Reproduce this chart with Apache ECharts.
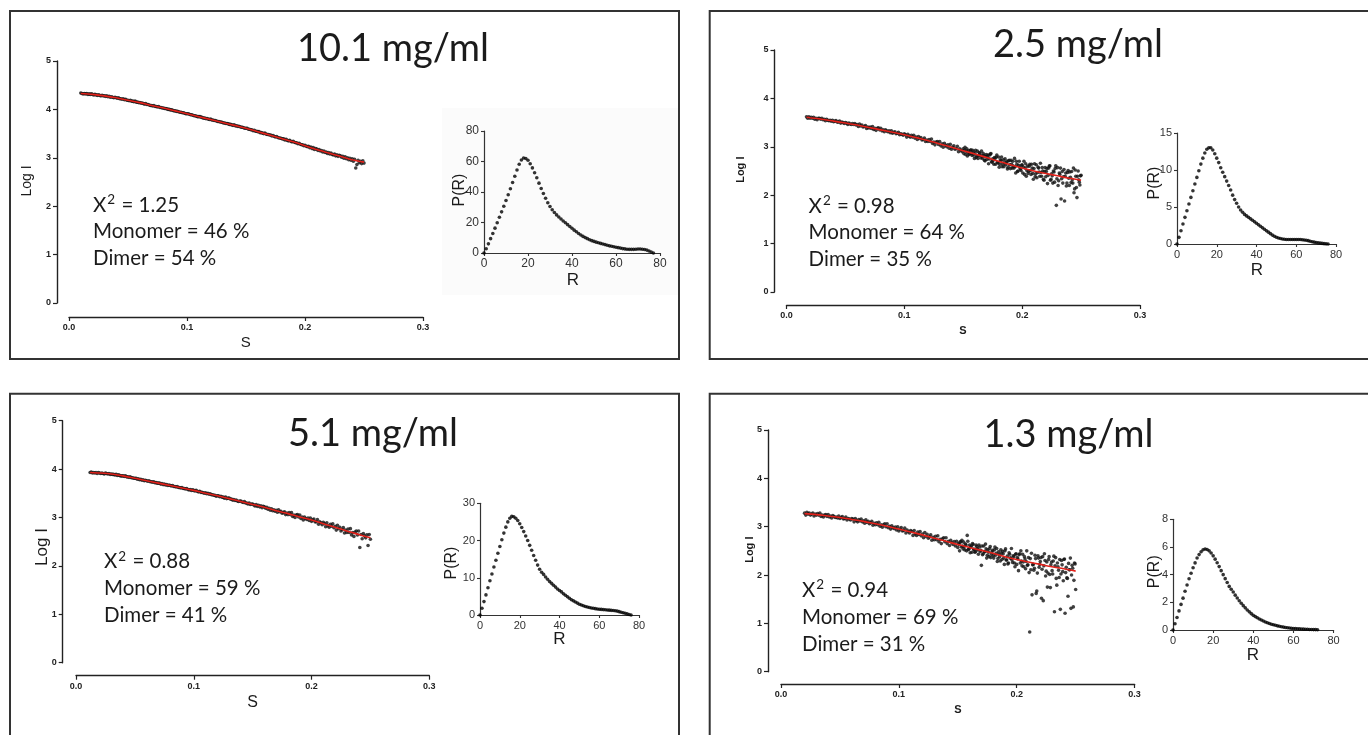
<!DOCTYPE html>
<html>
<head>
<meta charset="utf-8">
<script src="https://cdn.jsdelivr.net/npm/echarts@6/dist/echarts.min.js"></script>
<style>
  html, body { margin: 0; padding: 0; background: #fff; }
  #c { width: 1368px; height: 735px; }
</style>
</head>
<body>
<div id="c"></div>
<script>
// Scattering vector grid shared by all four curves (S, 1/Å)
const sGrid = [
  0.010,0.011,0.012,0.013,0.014,0.015,0.016,0.017,0.018,0.019,
  0.020,0.021,0.022,0.023,0.024,0.025,0.026,0.027,0.028,0.029,
  0.030,0.031,0.032,0.033,0.034,0.035,0.036,0.037,0.038,0.039,
  0.040,0.041,0.042,0.043,0.044,0.045,0.046,0.047,0.048,0.049,
  0.050,0.051,0.052,0.053,0.054,0.055,0.056,0.057,0.058,0.059,
  0.060,0.061,0.062,0.063,0.064,0.065,0.066,0.067,0.068,0.069,
  0.070,0.071,0.072,0.073,0.074,0.075,0.076,0.077,0.078,0.079,
  0.080,0.081,0.082,0.083,0.084,0.085,0.086,0.087,0.088,0.089,
  0.090,0.091,0.092,0.093,0.094,0.095,0.096,0.097,0.098,0.099,
  0.100,0.101,0.102,0.103,0.104,0.105,0.106,0.107,0.108,0.109,
  0.110,0.111,0.112,0.113,0.114,0.115,0.116,0.117,0.118,0.119,
  0.120,0.121,0.122,0.123,0.124,0.125,0.126,0.127,0.128,0.129,
  0.130,0.131,0.132,0.133,0.134,0.135,0.136,0.137,0.138,0.139,
  0.140,0.141,0.142,0.143,0.144,0.145,0.146,0.147,0.148,0.149,
  0.150,0.151,0.152,0.153,0.154,0.155,0.156,0.157,0.158,0.159,
  0.160,0.161,0.162,0.163,0.164,0.165,0.166,0.167,0.168,0.169,
  0.170,0.171,0.172,0.173,0.174,0.175,0.176,0.177,0.178,0.179,
  0.180,0.181,0.182,0.183,0.184,0.185,0.186,0.187,0.188,0.189,
  0.190,0.191,0.192,0.193,0.194,0.195,0.196,0.197,0.198,0.199,
  0.200,0.201,0.202,0.203,0.204,0.205,0.206,0.207,0.208,0.209,
  0.210,0.211,0.212,0.213,0.214,0.215,0.216,0.217,0.218,0.219,
  0.220,0.221,0.222,0.223,0.224,0.225,0.226,0.227,0.228,0.229,
  0.230,0.231,0.232,0.233,0.234,0.235,0.236,0.237,0.238,0.239,
  0.240,0.241,0.242,0.243,0.244,0.245,0.246,0.247,0.248,0.249,0.250
];

// Interleaved wide-angle samples recorded for the two dilute samples
const sHalf = [
  0.1505,0.1515,0.1525,0.1535,0.1545,0.1555,0.1565,0.1575,0.1585,0.1595,
  0.1605,0.1615,0.1625,0.1635,0.1645,0.1655,0.1665,0.1675,0.1685,0.1695,
  0.1705,0.1715,0.1725,0.1735,0.1745,0.1755,0.1765,0.1775,0.1785,0.1795,
  0.1805,0.1815,0.1825,0.1835,0.1845,0.1855,0.1865,0.1875,0.1885,0.1895,
  0.1905,0.1915,0.1925,0.1935,0.1945,0.1955,0.1965,0.1975,0.1985,0.1995,
  0.2005,0.2015,0.2025,0.2035,0.2045,0.2055,0.2065,0.2075,0.2085,0.2095,
  0.2105,0.2115,0.2125,0.2135,0.2145,0.2155,0.2165,0.2175,0.2185,0.2195,
  0.2205,0.2215,0.2225,0.2235,0.2245,0.2255,0.2265,0.2275,0.2285,0.2295,
  0.2305,0.2315,0.2325,0.2335,0.2345,0.2355,0.2365,0.2375,0.2385,0.2395,
  0.2405,0.2415,0.2425,0.2435,0.2445,0.2455,0.2465,0.2475,0.2485,0.2495
];

// Measured Log I on sGrid (null = not measured)
const logI_101 = [
  4.34,4.33,4.32,4.33,4.32,4.33,4.31,4.32,4.31,4.32,
  4.31,4.30,4.31,4.30,4.29,4.30,4.29,4.28,4.29,4.28,
  4.28,4.27,4.28,4.26,4.27,4.25,4.26,4.25,4.24,4.25,
  4.24,4.23,4.24,4.22,4.22,4.21,4.22,4.20,4.21,4.19,
  4.19,4.18,4.19,4.17,4.17,4.16,4.17,4.15,4.15,4.14,
  4.14,4.13,4.13,4.12,4.11,4.12,4.10,4.10,4.09,4.08,
  4.08,4.07,4.08,4.06,4.06,4.05,4.06,4.04,4.04,4.03,
  4.03,4.02,4.02,4.01,4.00,4.00,3.99,3.99,3.98,3.97,
  3.97,3.96,3.96,3.95,3.94,3.94,3.93,3.93,3.92,3.91,
  3.91,3.91,3.90,3.89,3.89,3.88,3.87,3.87,3.86,3.85,
  3.85,3.85,3.84,3.83,3.82,3.82,3.81,3.81,3.80,3.79,
  3.80,3.78,3.78,3.77,3.77,3.76,3.75,3.75,3.74,3.74,
  3.73,3.72,3.72,3.71,3.71,3.70,3.69,3.69,3.68,3.67,
  3.68,3.66,3.66,3.65,3.65,3.64,3.63,3.63,3.62,3.61,
  3.61,3.61,3.59,3.59,3.58,3.58,3.56,3.57,3.55,3.55,
  3.54,3.54,3.52,3.52,3.51,3.50,3.51,3.49,3.48,3.48,
  3.47,3.47,3.45,3.46,3.44,3.43,3.44,3.42,3.41,3.41,
  3.40,3.39,3.39,3.37,3.38,3.36,3.35,3.36,3.34,3.33,
  3.34,3.32,3.31,3.31,3.29,3.30,3.28,3.27,3.27,3.25,
  3.26,3.24,3.23,3.24,3.21,3.22,3.19,3.21,3.17,3.19,
  3.18,3.15,3.17,3.14,3.15,3.12,3.14,3.11,3.12,3.09,
  3.11,3.08,3.10,3.07,3.06,3.08,3.04,3.06,3.03,3.05,
  3.04,3.01,3.03,2.99,3.02,2.98,3.00,2.96,2.99,2.95,
  2.98,2.93,2.97,2.79,2.86,2.95,2.90,2.93,2.88,2.94,2.89
];
const logI_25 = [
  null,null,null,null,null,null,null,3.62,3.59,3.62,
  3.59,3.61,3.59,3.61,3.57,3.59,3.56,3.59,3.59,3.57,
  3.59,3.56,3.57,3.54,3.57,3.55,3.54,3.55,3.53,3.55,
  3.52,3.53,3.54,3.51,3.51,3.53,3.49,3.51,3.50,3.48,
  3.50,3.49,3.46,3.49,3.47,3.46,3.48,3.46,3.48,3.45,
  3.46,3.42,3.47,3.43,3.45,3.41,3.42,3.44,3.38,3.41,
  3.39,3.41,3.38,3.42,3.36,3.38,3.34,3.38,3.39,3.35,
  3.38,3.33,3.35,3.31,3.35,3.33,3.31,3.33,3.29,3.33,
  3.28,3.30,3.31,3.27,3.28,3.30,3.25,3.27,3.26,3.24,
  3.27,3.25,3.20,3.26,3.22,3.20,3.24,3.20,3.24,3.18,
  3.20,3.15,3.21,3.17,3.19,3.14,3.15,3.18,3.11,3.14,
  3.11,3.15,3.11,3.16,3.07,3.10,3.04,3.10,3.11,3.05,
  3.11,3.02,3.06,2.99,3.07,3.03,3.00,3.04,2.97,3.05,
  2.95,2.99,3.02,2.95,2.96,3.01,2.90,2.96,2.93,2.90,
  2.96,2.93,2.84,2.96,2.88,2.84,2.92,2.86,2.93,2.83,
  2.87,2.78,2.91,2.82,2.86,2.77,2.81,2.86,2.72,2.80,
  2.74,2.83,2.75,2.85,2.69,2.75,2.64,2.76,2.79,2.68,
  2.79,2.64,2.71,2.59,2.73,2.67,2.63,2.70,2.58,2.72,
  2.55,2.64,2.70,2.56,2.59,2.70,2.49,2.62,2.57,2.51,
  2.63,2.58,2.43,2.65,2.51,2.45,2.60,2.51,2.64,2.45,
  2.55,2.38,2.63,2.47,2.56,2.39,2.47,2.57,2.33,2.49,
  2.38,2.55,2.41,2.60,2.31,2.44,2.25,2.48,2.55,1.79,
  2.57,2.30,2.43,1.92,2.49,2.38,1.88,2.46,2.25,2.51,
  2.20,2.37,2.49,2.25,2.05,2.52,2.16,2.39,2.32,2.21,2.41
];
const logI_25_hi = [
  2.86,2.99,2.91,2.81,2.92,2.86,2.94,2.82,2.89,2.76,
  2.93,2.81,2.76,2.88,2.82,2.91,2.76,2.82,2.71,2.84,
  2.80,2.65,2.83,2.86,2.68,2.72,2.78,2.64,2.83,2.67,
  2.58,2.73,2.79,2.65,2.59,2.75,2.67,2.54,2.71,2.63,
  2.72,2.56,2.60,2.76,2.46,2.64,2.50,2.70,2.54,2.62,
  2.46,2.70,2.56,2.39,2.60,2.49,2.64,2.43,2.56,2.33,
  2.65,2.44,2.36,2.58,2.48,2.66,2.39,2.50,2.31,2.57,
  2.49,2.24,2.56,2.61,2.33,2.40,2.50,2.27,2.61,2.34,
  2.20,2.46,2.56,2.34,2.25,2.53,2.39,2.19,2.47,2.35,
  2.48,2.26,2.32,2.56,2.13,2.39,1.95,2.50,2.27,2.40
];
const logI_51 = [
  null,null,3.93,3.94,3.92,3.93,3.92,3.93,3.91,3.93,
  3.92,3.91,3.92,3.91,3.90,3.92,3.91,3.90,3.91,3.89,
  3.90,3.89,3.89,3.88,3.89,3.87,3.88,3.87,3.86,3.86,
  3.86,3.85,3.86,3.84,3.84,3.83,3.84,3.82,3.82,3.81,
  3.81,3.81,3.79,3.80,3.78,3.79,3.77,3.78,3.76,3.77,
  3.76,3.75,3.76,3.74,3.74,3.73,3.74,3.72,3.72,3.71,
  3.71,3.71,3.69,3.70,3.68,3.69,3.67,3.68,3.66,3.67,
  3.66,3.65,3.66,3.64,3.64,3.63,3.64,3.62,3.62,3.61,
  3.62,3.60,3.60,3.59,3.60,3.58,3.57,3.58,3.56,3.57,
  3.56,3.55,3.56,3.54,3.53,3.54,3.52,3.52,3.51,3.50,
  3.51,3.49,3.50,3.48,3.49,3.47,3.47,3.46,3.46,3.44,
  3.45,3.45,3.43,3.44,3.42,3.42,3.40,3.42,3.39,3.40,
  3.40,3.38,3.38,3.36,3.37,3.35,3.36,3.34,3.33,3.34,
  3.34,3.32,3.31,3.33,3.30,3.30,3.28,3.30,3.27,3.28,
  3.28,3.26,3.24,3.27,3.23,3.25,3.22,3.24,3.20,3.23,
  3.22,3.19,3.21,3.17,3.19,3.15,3.18,3.14,3.16,3.13,
  3.15,3.11,3.16,3.12,3.13,3.09,3.10,3.12,3.06,3.09,
  3.06,3.10,3.06,3.10,3.02,3.05,3.00,3.05,3.06,3.01,
  3.05,2.98,3.01,2.95,3.01,2.98,2.96,2.99,2.94,2.99,
  2.92,2.95,2.97,2.91,2.91,2.96,2.86,2.91,2.89,2.85,
  2.90,2.87,2.81,2.89,2.83,2.80,2.86,2.82,2.87,2.79,
  2.82,2.74,2.84,2.77,2.80,2.72,2.75,2.79,2.68,2.74,
  2.69,2.76,2.69,2.77,2.64,2.69,2.61,2.70,2.72,2.64,
  2.72,2.38,2.65,2.56,2.67,2.62,2.58,2.64,2.42,2.65,2.55
];
const logI_13 = [
  null,null,null,null,null,null,null,null,null,null,
  3.28,3.24,3.30,3.26,3.28,3.24,3.26,3.28,3.22,3.26,
  3.24,3.27,3.24,3.28,3.21,3.24,3.20,3.24,3.25,3.21,
  3.25,3.20,3.22,3.18,3.23,3.21,3.19,3.20,3.18,3.22,
  3.17,3.19,3.21,3.16,3.17,3.20,3.14,3.17,3.16,3.14,
  3.17,3.16,3.10,3.17,3.13,3.10,3.15,3.12,3.16,3.10,
  3.12,3.07,3.14,3.09,3.11,3.06,3.08,3.11,3.03,3.07,
  3.04,3.08,3.04,3.09,3.01,3.04,2.99,3.04,3.06,3.00,
  3.06,2.98,3.01,2.95,3.02,2.98,2.96,2.99,2.93,3.00,
  2.91,2.95,2.98,2.91,2.92,2.97,2.87,2.93,2.90,2.87,
  2.92,2.90,2.82,2.92,2.85,2.82,2.89,2.84,2.90,2.81,
  2.85,2.77,2.88,2.80,2.84,2.76,2.79,2.83,2.72,2.78,
  2.73,2.80,2.73,2.81,2.69,2.74,2.65,2.75,2.77,2.69,
  2.77,2.65,2.70,2.61,2.72,2.67,2.63,2.69,2.60,2.70,
  2.57,2.63,2.68,2.58,2.60,2.68,2.52,2.62,2.82,2.53,
  2.62,2.58,2.47,2.63,2.53,2.48,2.59,2.52,2.62,2.48,
  2.20,2.42,2.60,2.48,2.54,2.41,2.47,2.55,2.36,2.48,
  2.40,2.52,2.41,2.55,2.34,2.43,2.29,2.45,2.49,2.35,
  2.50,2.31,2.39,2.25,2.43,2.35,2.31,2.40,2.25,2.43,
  2.22,2.33,2.42,2.25,2.29,2.43,2.17,2.33,2.28,2.20,
  2.36,0.82,2.11,1.59,2.22,2.14,2.34,1.67,2.40,2.16,
  2.28,1.52,2.38,2.19,2.30,2.08,1.75,2.32,2.01,2.21,
  2.09,2.29,1.24,2.36,1.79,2.17,1.95,1.29,2.30,2.07,
  2.32,1.21,2.16,1.93,2.24,2.11,1.31,2.20,1.34,2.25,1.70
];
const logI_13_hi = [
  2.65,2.50,2.69,2.72,2.54,2.59,2.64,2.50,2.70,2.54,
  2.46,2.60,2.65,2.53,2.47,2.62,2.54,2.43,2.58,2.51,
  2.60,2.44,2.48,2.64,2.35,2.52,2.38,2.59,2.43,2.51,
  2.35,2.58,2.45,2.28,2.48,2.38,2.52,2.32,2.44,2.22,
  2.54,2.31,2.23,2.46,2.35,2.55,2.26,2.38,2.17,2.44,
  2.36,2.09,2.44,2.50,2.19,2.27,2.38,2.13,2.50,2.21,
  2.05,2.34,2.45,2.21,2.10,2.41,1.62,2.04,2.35,2.22,
  2.36,2.12,1.47,2.44,1.98,2.27,2.04,2.38,1.74,2.27,
  2.02,2.39,2.19,1.93,2.25,2.10,2.32,2.02,2.21,1.88,
  2.33,2.05,1.94,1.56,2.11,2.35,2.00,2.14,1.89,2.23
];

// Model fits [S, Log I]
const fit_101 = [[0.01,4.33],[0.02,4.31],[0.03,4.28],[0.04,4.24],[0.05,4.19],[0.06,4.14],[0.07,4.08],[0.08,4.03],[0.09,3.97],[0.10,3.91],[0.11,3.85],[0.12,3.79],[0.13,3.73],[0.14,3.67],[0.15,3.61],[0.16,3.54],[0.17,3.47],[0.18,3.40],[0.19,3.33],[0.20,3.25],[0.21,3.17],[0.22,3.10],[0.23,3.03],[0.24,2.96],[0.25,2.91]];
const fit_25 = [[0.017,3.61],[0.02,3.60],[0.03,3.57],[0.04,3.53],[0.05,3.49],[0.06,3.45],[0.07,3.40],[0.08,3.35],[0.09,3.30],[0.10,3.25],[0.11,3.19],[0.12,3.13],[0.13,3.06],[0.14,2.99],[0.15,2.92],[0.16,2.85],[0.17,2.78],[0.18,2.70],[0.19,2.63],[0.20,2.56],[0.21,2.50],[0.22,2.45],[0.23,2.40],[0.24,2.35],[0.25,2.31]];
const fit_51 = [[0.012,3.93],[0.02,3.92],[0.03,3.90],[0.04,3.86],[0.05,3.81],[0.06,3.76],[0.07,3.71],[0.08,3.66],[0.09,3.61],[0.10,3.56],[0.11,3.50],[0.12,3.45],[0.13,3.39],[0.14,3.33],[0.15,3.27],[0.16,3.21],[0.17,3.14],[0.18,3.08],[0.19,3.01],[0.20,2.95],[0.21,2.87],[0.22,2.80],[0.23,2.72],[0.24,2.65],[0.25,2.58]];
const fit_13 = [[0.02,3.27],[0.03,3.25],[0.04,3.22],[0.05,3.19],[0.06,3.15],[0.07,3.11],[0.08,3.06],[0.09,3.01],[0.10,2.95],[0.11,2.89],[0.12,2.83],[0.13,2.76],[0.14,2.70],[0.15,2.63],[0.16,2.57],[0.17,2.51],[0.18,2.45],[0.19,2.38],[0.20,2.32],[0.21,2.27],[0.22,2.22],[0.23,2.17],[0.24,2.13],[0.25,2.08]];

// Pair-distance distribution P(R), sampled at R = rGrid
const rGrid = [
  0,1,2,3,4,5,6,7,8,9,10,11,12,13,14,15,16,17,18,19,
  20,21,22,23,24,25,26,27,28,29,30,31,32,33,34,35,36,37,38,39,
  40,41,42,43,44,45,46,47,48,49,50,51,52,53,54,55,56,57,58,59,
  60,61,62,63,64,65,66,67,68,69,70,71,72,73,74,75,76,77
];
const pr_101 = [
  0,2.8,6,9.4,12.8,16.3,19.8,23.4,27,30.7,
  34.4,38.2,42.1,46.2,50.3,54.4,58.2,61,62.3,62,
  60.8,58.5,55.8,52.6,49.3,45.8,42.3,39,35.9,33,
  30.5,28.4,26.6,25,23.6,22.3,21,19.8,18.6,17.4,
  16.2,15,13.9,12.8,11.8,10.9,10.1,9.4,8.7,8.1,
  7.6,7.1,6.7,6.3,5.9,5.5,5.1,4.7,4.4,4.1,
  3.8,3.5,3.2,2.9,2.7,2.5,2.4,2.4,2.4,2.5,
  2.6,2.6,2.5,2.3,1.9,1.3,0.6,0
];
const pr_25 = [
  0,0.9,1.8,2.7,3.6,4.5,5.4,6.3,7.2,8.1,
  9.0,9.9,10.8,11.6,12.3,12.8,13.0,13.0,12.7,12.2,
  11.6,11.0,10.3,9.7,9.1,8.5,7.9,7.3,6.6,6.0,
  5.5,5.0,4.6,4.3,4.0,3.8,3.6,3.4,3.2,3.0,
  2.8,2.6,2.4,2.2,2.0,1.8,1.6,1.4,1.2,1.05,
  0.92,0.82,0.74,0.68,0.64,0.61,0.6,0.6,0.6,0.6,
  0.6,0.6,0.6,0.58,0.55,0.5,0.45,0.38,0.3,0.25,
  0.2,0.15,0.12,0.08,0.05,0.02,0
];
const pr_51 = [
  0,1.8,3.6,5.4,7.3,9.2,11.0,12.9,14.7,16.6,
  18.4,20.2,22.0,23.6,25.0,26.0,26.5,26.4,26.0,25.4,
  24.5,23.5,22.4,21.2,20.0,18.7,17.4,16.0,14.7,13.4,
  12.3,11.5,10.9,10.2,9.6,9.0,8.5,8.0,7.5,7.0,
  6.6,6.2,5.7,5.3,4.9,4.5,4.1,3.8,3.5,3.2,
  2.9,2.7,2.5,2.3,2.15,2.0,1.9,1.8,1.7,1.6,
  1.55,1.5,1.45,1.4,1.35,1.3,1.25,1.2,1.15,1.05,
  0.9,0.75,0.6,0.45,0.3,0.15,0
];
const pr_13 = [
  0,0.45,0.9,1.38,1.85,2.3,2.8,3.25,3.7,4.1,
  4.5,4.85,5.2,5.45,5.65,5.8,5.85,5.82,5.72,5.56,
  5.36,5.12,4.86,4.58,4.29,4.0,3.71,3.43,3.15,2.95,
  2.75,2.52,2.31,2.11,1.93,1.76,1.6,1.45,1.31,1.18,
  1.06,0.97,0.88,0.8,0.72,0.65,0.58,0.52,0.47,0.42,
  0.38,0.34,0.3,0.27,0.24,0.21,0.18,0.16,0.14,0.12,
  0.11,0.1,0.09,0.08,0.07,0.06,0.05,0.05,0.04,0.04,
  0.03,0.03,0.02
];

// Panel texts
const titles = ['10.1 mg/ml', '2.5 mg/ml', '5.1 mg/ml', '1.3 mg/ml'];
const chi2 = ['1.25', '0.98', '0.88', '0.94'];
const monomerPct = [46, 64, 59, 69];
const dimerPct = [54, 35, 41, 31];
const prAxisMax = [80, 15, 30, 8];
const prAxisStep = [20, 5, 10, 2];

// ---------------- layout (pixels) ----------------
const layout = [
  { box: [10, 11, 669, 348],
    main: { left: 69, top: 61, width: 354, height: 242, xOff: 14, yOff: 12 },
    inset: { left: 484, top: 131, width: 176, height: 122, font: 12 },
    title: [393, 49], notes: [93, 205, 26.5],
    logI: [26.7, 181, 14, 'normal'], s: [245.7, 343.3, 15, 'normal'],
    pr: [460, 190], r: [573, 280], shade: [442, 108, 236, 187] },
  { box: [709.7, 11, 700, 348],
    main: { left: 786.5, top: 50, width: 353.5, height: 242, xOff: 13, yOff: 12 },
    inset: { left: 1177, top: 133, width: 159, height: 111, font: 11 },
    title: [1078, 45], notes: [808.6, 206, 26.5],
    logI: [740.5, 169.7, 11, 'bold'], s: [963, 331, 11, 'bold'],
    pr: [1155, 183], r: [1257, 270.5] },
  { box: [10, 393.7, 669, 400],
    main: { left: 76, top: 420.7, width: 353.3, height: 242, xOff: 13, yOff: 13.3 },
    inset: { left: 480, top: 503.3, width: 159, height: 111.7, font: 11 },
    title: [373, 434], notes: [104, 561.7, 26.7],
    logI: [42.2, 547, 17, 'normal'], s: [252.5, 702.5, 16, 'normal'],
    pr: [451.7, 563], r: [559.3, 639.3] },
  { box: [709.7, 393.7, 700, 400],
    main: { left: 781, top: 430, width: 353.6, height: 241.7, xOff: 12.3, yOff: 13 },
    inset: { left: 1173, top: 519.3, width: 160.6, height: 110.7, font: 11 },
    title: [1068.5, 435], notes: [802, 590, 27.2],
    logI: [749.5, 549.7, 11, 'bold'], s: [957.8, 710, 11, 'bold'],
    pr: [1155, 571.7], r: [1253, 655] }
];

const curves = [
  { logI: logI_101, extra: null,        fit: fit_101, pr: pr_101 },
  { logI: logI_25,  extra: logI_25_hi,  fit: fit_25,  pr: pr_25 },
  { logI: logI_51,  extra: null,        fit: fit_51,  pr: pr_51 },
  { logI: logI_13,  extra: logI_13_hi,  fit: fit_13,  pr: pr_13 }
];

const TXT_FONT = 'Lato, "Open Sans", sans-serif';
const AX_FONT = '"Liberation Sans", Arial, Helvetica, sans-serif';
const INK = '#1b1b1b';
const NOTE_SIZE = 20.5;

function text(str, x, y, size, weight, family, align, rot) {
  return {
    type: 'text', x: x, y: y, rotation: rot || 0, silent: true, z: 50,
    style: {
      text: str, fontSize: size, fontWeight: weight, fontFamily: family,
      fill: INK, textAlign: align || 'center', textVerticalAlign: 'middle',
      align: align || 'center', verticalAlign: 'middle'
    }
  };
}

// chi-square line with a raised "2"
function chiText(value, x, y) {
  const base = { fontSize: NOTE_SIZE, fontFamily: TXT_FONT, color: INK, lineHeight: 24, verticalAlign: 'middle' };
  return {
    type: 'text', x: x, y: y, silent: true, z: 50,
    style: {
      text: '{a|X}{b|2}{a| = ' + value + '}',
      fill: INK, textAlign: 'left', align: 'left',
      textVerticalAlign: 'middle', verticalAlign: 'middle',
      rich: {
        a: base,
        b: { fontSize: 13.5, fontFamily: TXT_FONT, color: INK, lineHeight: 17, verticalAlign: 'top', padding: [0, 1, 0, 1] }
      }
    }
  };
}

const grids = [], xAxes = [], yAxes = [], series = [], graphics = [];

layout.forEach(function (L, i) {
  const C = curves[i];
  const gMain = grids.length;
  grids.push({ left: L.main.left, top: L.main.top, width: L.main.width, height: L.main.height,
               containLabel: false, outerBoundsMode: 'none' });
  const gIn = grids.length;
  grids.push({ left: L.inset.left, top: L.inset.top, width: L.inset.width, height: L.inset.height,
               containLabel: false, outerBoundsMode: 'none' });

  const mainLine = { show: true, onZero: false, lineStyle: { color: '#222', width: 1.4 } };
  const mainTick = { show: true, inside: false, length: 4, lineStyle: { color: '#222', width: 1.2 } };
  const mainLbl = { fontSize: 9, fontWeight: 'bold', color: '#222', fontFamily: AX_FONT };

  xAxes.push({ gridIndex: gMain, type: 'value', min: 0, max: 0.3, interval: 0.1, offset: L.main.xOff,
    axisLine: mainLine, axisTick: mainTick, splitLine: { show: false },
    axisLabel: Object.assign({ margin: 6, formatter: function (v) { return v.toFixed(1); } }, mainLbl) });
  yAxes.push({ gridIndex: gMain, type: 'value', min: 0, max: 5, interval: 1, offset: L.main.yOff,
    axisLine: mainLine, axisTick: mainTick, splitLine: { show: false },
    axisLabel: Object.assign({ margin: 6 }, mainLbl) });

  const inLine = { show: true, onZero: false, lineStyle: { color: '#333', width: 1.2 } };
  const inTick = { show: true, inside: false, length: 3, lineStyle: { color: '#333', width: 1.1 } };
  const inLbl = { fontSize: L.inset.font, color: '#333', fontFamily: AX_FONT };
  xAxes.push({ gridIndex: gIn, type: 'value', min: 0, max: 80, interval: 20,
    axisLine: inLine, axisTick: inTick, splitLine: { show: false },
    axisLabel: Object.assign({ margin: 5 }, inLbl) });
  yAxes.push({ gridIndex: gIn, type: 'value', min: 0, max: prAxisMax[i], interval: prAxisStep[i],
    axisLine: inLine, axisTick: inTick, splitLine: { show: false },
    axisLabel: Object.assign({ margin: 5 }, inLbl) });

  const pts = [];
  sGrid.forEach(function (s, k) { if (C.logI[k] !== null) pts.push([s, C.logI[k]]); });
  if (C.extra) sHalf.forEach(function (s, k) { pts.push([s, C.extra[k]]); });
  series.push({ type: 'scatter', xAxisIndex: gMain, yAxisIndex: gMain, data: pts,
    symbol: 'circle', symbolSize: 3.6, itemStyle: { color: '#111' }, silent: true, z: 2 });
  series.push({ type: 'line', xAxisIndex: gMain, yAxisIndex: gMain, data: C.fit,
    smooth: 0.3, showSymbol: false, lineStyle: { color: '#e3221b', width: 1.6 }, silent: true, z: 3 });
  series.push({ type: 'scatter', xAxisIndex: gIn, yAxisIndex: gIn,
    data: C.pr.map(function (p, k) { return [rGrid[k], p]; }),
    symbol: 'circle', symbolSize: 3.6, itemStyle: { color: '#000' }, silent: true, z: 2 });

  if (L.shade) {
    graphics.push({ type: 'rect', z: -1, silent: true,
      shape: { x: L.shade[0], y: L.shade[1], width: L.shade[2], height: L.shade[3] },
      style: { fill: '#fbfbfb' } });
  }
  graphics.push({ type: 'rect', z: 40, silent: true,
    shape: { x: L.box[0], y: L.box[1], width: L.box[2], height: L.box[3] },
    style: { fill: 'none', stroke: '#333', lineWidth: 2 } });

  graphics.push(text(titles[i], L.title[0], L.title[1], 38, 'normal', TXT_FONT, 'center'));
  const nx = L.notes[0], ny = L.notes[1], dy = L.notes[2];
  graphics.push(chiText(chi2[i], nx, ny));
  graphics.push(text('Monomer = ' + monomerPct[i] + ' %', nx, ny + dy, NOTE_SIZE, 'normal', TXT_FONT, 'left'));
  graphics.push(text('Dimer = ' + dimerPct[i] + ' %', nx, ny + 2 * dy, NOTE_SIZE, 'normal', TXT_FONT, 'left'));

  graphics.push(text('Log I', L.logI[0], L.logI[1], L.logI[2], L.logI[3], AX_FONT, 'center', Math.PI / 2));
  graphics.push(text('S', L.s[0], L.s[1], L.s[2], L.s[3], AX_FONT, 'center'));
  graphics.push(text('P(R)', L.pr[0], L.pr[1], 16, 'normal', AX_FONT, 'center', Math.PI / 2));
  graphics.push(text('R', L.r[0], L.r[1], 17, 'normal', AX_FONT, 'center'));
});

const chart = echarts.init(document.getElementById('c'), null, { renderer: 'canvas' });
chart.setOption({
  animation: false,
  backgroundColor: '#ffffff',
  grid: grids,
  xAxis: xAxes,
  yAxis: yAxes,
  series: series,
  graphic: { elements: graphics }
});
</script>
</body>
</html>
